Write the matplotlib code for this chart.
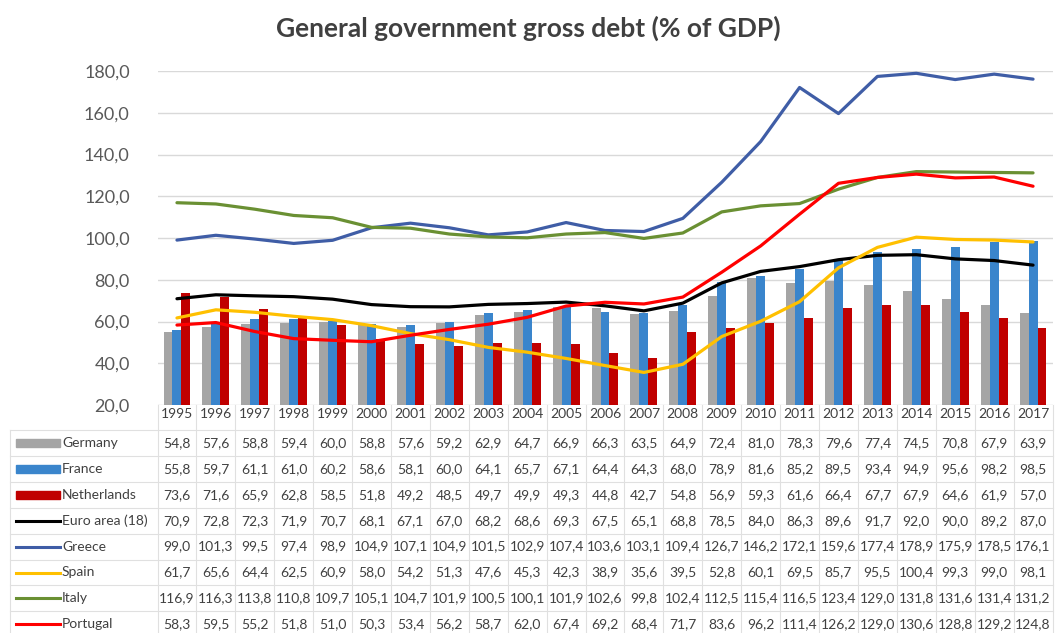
import matplotlib
matplotlib.use("Agg")
import matplotlib.pyplot as plt
from matplotlib.transforms import blended_transform_factory
from matplotlib.patches import Rectangle
from matplotlib.lines import Line2D

plt.rcParams['font.family'] = ['Lato', 'DejaVu Sans']

years = [str(y) for y in range(1995, 2018)]
germany = [54.8, 57.6, 58.8, 59.4, 60.0, 58.8, 57.6, 59.2, 62.9, 64.7, 66.9, 66.3, 63.5, 64.9, 72.4, 81.0, 78.3, 79.6, 77.4, 74.5, 70.8, 67.9, 63.9]
france = [55.8, 59.7, 61.1, 61.0, 60.2, 58.6, 58.1, 60.0, 64.1, 65.7, 67.1, 64.4, 64.3, 68.0, 78.9, 81.6, 85.2, 89.5, 93.4, 94.9, 95.6, 98.2, 98.5]
netherlands = [73.6, 71.6, 65.9, 62.8, 58.5, 51.8, 49.2, 48.5, 49.7, 49.9, 49.3, 44.8, 42.7, 54.8, 56.9, 59.3, 61.6, 66.4, 67.7, 67.9, 64.6, 61.9, 57.0]
euro_area = [70.9, 72.8, 72.3, 71.9, 70.7, 68.1, 67.1, 67.0, 68.2, 68.6, 69.3, 67.5, 65.1, 68.8, 78.5, 84.0, 86.3, 89.6, 91.7, 92.0, 90.0, 89.2, 87.0]
greece = [99.0, 101.3, 99.5, 97.4, 98.9, 104.9, 107.1, 104.9, 101.5, 102.9, 107.4, 103.6, 103.1, 109.4, 126.7, 146.2, 172.1, 159.6, 177.4, 178.9, 175.9, 178.5, 176.1]
spain = [61.7, 65.6, 64.4, 62.5, 60.9, 58.0, 54.2, 51.3, 47.6, 45.3, 42.3, 38.9, 35.6, 39.5, 52.8, 60.1, 69.5, 85.7, 95.5, 100.4, 99.3, 99.0, 98.1]
italy = [116.9, 116.3, 113.8, 110.8, 109.7, 105.1, 104.7, 101.9, 100.5, 100.1, 101.9, 102.6, 99.8, 102.4, 112.5, 115.4, 116.5, 123.4, 129.0, 131.8, 131.6, 131.4, 131.2]
portugal = [58.3, 59.5, 55.2, 51.8, 51.0, 50.3, 53.4, 56.2, 58.7, 62.0, 67.4, 69.2, 68.4, 71.7, 83.6, 96.2, 111.4, 126.2, 129.0, 130.6, 128.8, 129.2, 124.8]

bar_series = [("Germany", germany, "#A5A5A5"),
              ("France", france, "#3A85CC"),
              ("Netherlands", netherlands, "#C00000")]
line_series = [("Euro area (18)", euro_area, "#000000"),
               ("Greece", greece, "#3F5DA6"),
               ("Spain", spain, "#FFC000"),
               ("Italy", italy, "#6A9033"),
               ("Portugal", portugal, "#FF0000")]

W, H = 1057, 633
fig = plt.figure(figsize=(W / 100, H / 100), dpi=100)
ax = fig.add_axes([157.5 / W, (H - 405) / H, (1052.5 - 157.5) / W, (405 - 71) / H])

x = list(range(len(years)))
bw = 0.23
for k, (name, vals, col) in enumerate(bar_series):
    ax.bar([xi + (k - 1) * bw for xi in x], [v - 20 for v in vals], bottom=20, width=bw,
           color=col, zorder=2)
for name, vals, col in line_series:
    ax.plot(x, vals, color=col, lw=2.3, zorder=3, solid_joinstyle='round', solid_capstyle='round')

ax.set_xlim(-0.5, len(years) - 0.5)
ax.set_ylim(20, 180)
ax.set_yticks(range(20, 181, 20))
ax.set_yticklabels([f"{v},0" for v in range(20, 181, 20)], fontsize=13, color="#595959")
ax.set_xticks([])
ax.tick_params(axis='y', length=0, pad=20)
for s in ax.spines.values():
    s.set_visible(False)
ax.grid(axis='y', color="#D9D9D9", lw=1, zorder=0)
ax.set_axisbelow(True)

fig.text(528 / W, 1 - 28 / H, "General government gross debt (% of GDP)",
         ha='center', va='center', fontsize=19, fontweight='bold', color="#404040")

# table
tr = blended_transform_factory(ax.transData, fig.transFigure)
def fy(py):
    return 1 - py / H

grid_col = "#E0E0E0"
txt_col = "#404040"
row_names = [s[0] for s in bar_series] + [s[0] for s in line_series]
row_vals = [s[1] for s in bar_series] + [s[1] for s in line_series]
row_cols = [s[2] for s in bar_series] + [s[2] for s in line_series]

year_y = 414
row_y0 = 443
row_h = 25.9
for i, yl in enumerate(years):
    fig.text(i, fy(year_y), yl, transform=tr, ha='center', va='center', fontsize=10, color=txt_col)
for r, (name, vals, col) in enumerate(zip(row_names, row_vals, row_cols)):
    yy = row_y0 + r * row_h
    for i, v in enumerate(vals):
        fig.text(i, fy(yy), f"{v:.1f}".replace('.', ','), transform=tr, ha='center', va='center',
                 fontsize=10, color=txt_col)
    fig.text(62 / W, fy(yy), name, ha='left', va='center', fontsize=10, color=txt_col)
    if r < 3:
        fig.patches.append(Rectangle((16 / W, fy(yy + 4)), 44 / W, 8 / H, transform=fig.transFigure,
                                     color=col, figure=fig))
    else:
        fig.lines.append(Line2D([16 / W, 60 / W], [fy(yy), fy(yy)], transform=fig.transFigure,
                                color=col, lw=2.2, figure=fig))
    ly = fy(yy - row_h / 2)
    fig.lines.append(Line2D([10 / W, 1052.5 / W], [ly, ly], transform=fig.transFigure,
                            color=grid_col, lw=0.8, figure=fig))
for i in range(len(years) + 1):
    fig.lines.append(Line2D([i - 0.5, i - 0.5], [fy(405), fy(633)], transform=tr,
                            color=grid_col, lw=0.8, figure=fig))
fig.lines.append(Line2D([10 / W, 10 / W], [fy(430), fy(633)], transform=fig.transFigure,
                        color=grid_col, lw=0.8, figure=fig))

fig.savefig("out.png", dpi=100, facecolor="white")
